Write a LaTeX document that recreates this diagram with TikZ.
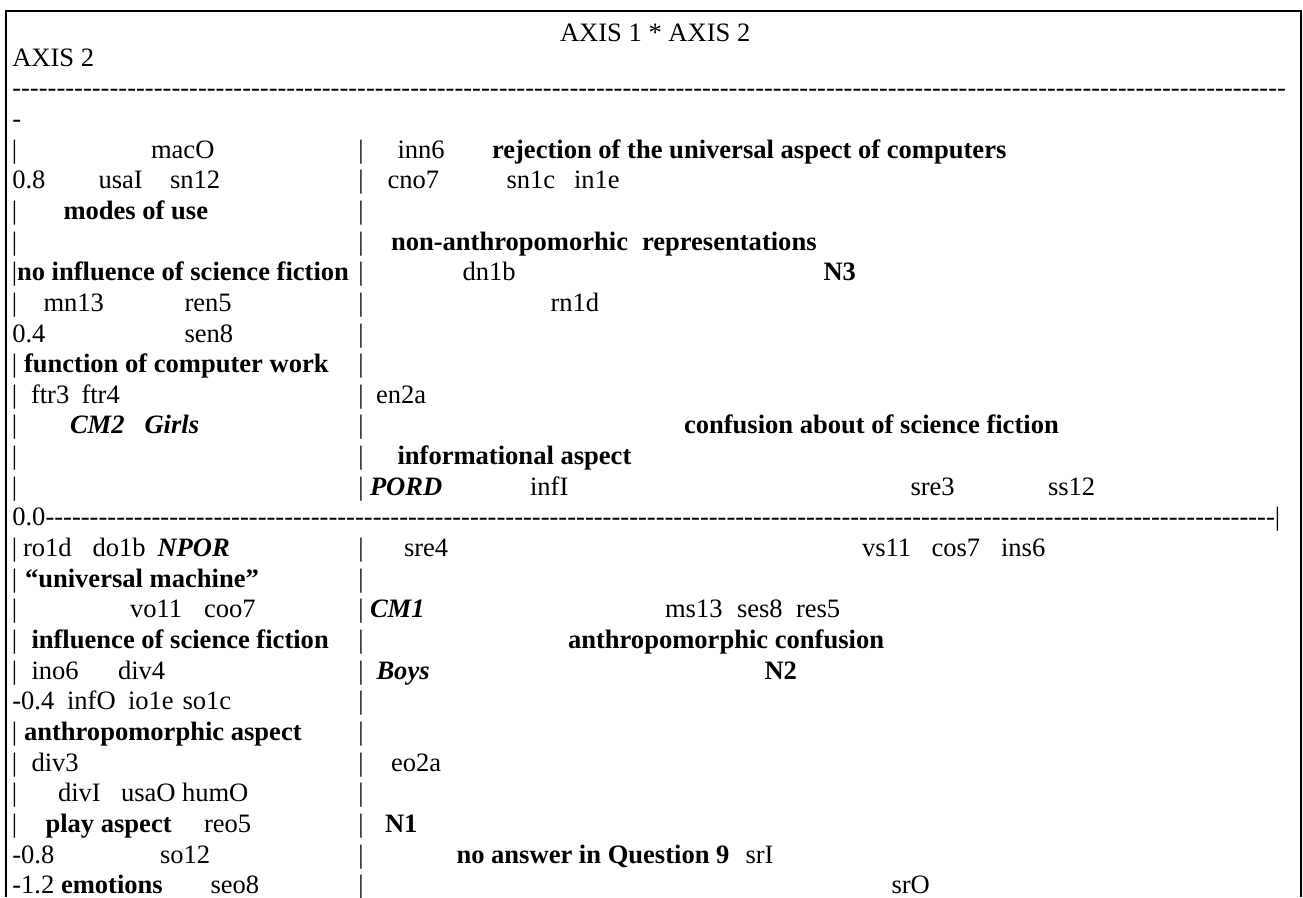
\documentclass[tikz,border=0pt]{standalone}
\usepackage{fontspec}
\setmainfont{Liberation Serif}
\ExplSyntaxOn
\cs_new:Npn \hyrun #1 { \prg_replicate:nn {#1} { -\kern0pt } }
\ExplSyntaxOff
\newcommand\T[5]{\node[#1] (#2) at (#3,{35.5+30.65*#4}) {#5};}
\begin{document}
\begin{tikzpicture}[x=0.4518pt,y=-0.4518pt,
  every node/.style={inner sep=0pt,outer sep=0pt,anchor=base west},
  tx/.style={font=\fontsize{12pt}{14pt}\selectfont},
  bx/.style={font=\fontsize{12pt}{14pt}\selectfont\bfseries},
  bix/.style={font=\fontsize{12pt}{14pt}\selectfont\bfseries\itshape},
  frame/.style={line width=0.9pt}]
\useasboundingbox (0,0) rectangle (1303,897);
\draw[frame] (5.7,897) -- (5.7,11) -- (1301,11) -- (1301,897);
% title and header
\node[tx] (title) at (560,41) {AXIS 1 * AXIS 2};
\T{tx}{ax2}{12.3}{1}{AXIS 2}
\T{tx}{dashA}{12.3}{2}{\hyrun{144}}
\T{tx}{dashB}{12.3}{3}{-}
% pipes
\foreach \n in {4,6,7,8,9,11,12,13,14,15,17,18,19,20,21,23,24,25,26}
  {\node[tx] (lp\n) at (12,{35.5+30.65*\n}) {|};}
\foreach \n in {4,5,6,7,8,9,10,11,12,13,14,15,17,18,19,20,21,22,23,24,25,26,27,28}
  {\node[tx] (mp\n) at (358.3,{35.5+30.65*\n}) {|};}
% row 4
\T{tx}{macO}{151}{4}{macO}
\T{tx}{inn6}{397.5}{4}{inn6}
\T{bx}{rej}{492}{4}{rejection of the universal aspect of computers}
% row 5
\T{tx}{v08}{12.3}{5}{0.8}
\T{tx}{usaI}{98.5}{5}{usaI}
\T{tx}{sn12}{170}{5}{sn12}
\T{tx}{cno7}{387.5}{5}{cno7}
\T{tx}{sn1c}{506.5}{5}{sn1c}
\T{tx}{in1e}{574}{5}{in1e}
% row 6
\T{bx}{modes}{63.5}{6}{modes of use}
% row 7
\T{bx}{nonan}{391}{7}{non-anthropomorhic}
\T{bx}{repr}{642}{7}{representations}
% row 8
\T{bx}{noinf}{17}{8}{no influence of science fiction}
\T{tx}{dn1b}{462.5}{8}{dn1b}
\T{bx}{N3}{823.5}{8}{N3}
% row 9
\T{tx}{mn13}{43.5}{9}{mn13}
\T{tx}{ren5}{184.5}{9}{ren5}
\T{tx}{rn1d}{550.5}{9}{rn1d}
% row 10
\T{tx}{v04}{12.3}{10}{0.4}
\T{tx}{sen8}{184.5}{10}{sen8}
% row 11
\T{bx}{func}{24}{11}{function of computer work}
% row 12
\T{tx}{ftr3}{31}{12}{ftr3}
\T{tx}{ftr4}{81.5}{12}{ftr4}
\T{tx}{en2a}{376}{12}{en2a}
% row 13
\T{bix}{CM2}{70}{13}{CM2}
\T{bix}{girls}{144.5}{13}{Girls}
\T{bx}{confsf}{684}{13}{confusion about of science fiction}
% row 14
\T{bx}{infasp}{397.5}{14}{informational aspect}
% row 15
\T{bix}{PORD}{370}{15}{PORD}
\T{tx}{infI}{530}{15}{infI}
\T{tx}{sre3}{910.5}{15}{sre3}
\T{tx}{ss12}{1048}{15}{ss12}
% row 16
\T{tx}{zero}{12.3}{16}{0.0\hyrun{139}|}
% row 17
\T{tx}{ro1d}{23}{17}{ro1d}
\T{tx}{do1b}{92.5}{17}{do1b}
\T{bix}{NPOR}{157.5}{17}{NPOR}
\T{tx}{sre4}{404}{17}{sre4}
\T{tx}{vs11}{862}{17}{vs11}
\T{tx}{cos7}{931.5}{17}{cos7}
\T{tx}{ins6}{1001}{17}{ins6}
% row 18
\T{bx}{univ}{25}{18}{“universal machine”}
% row 19
\T{tx}{vo11}{130}{19}{vo11}
\T{tx}{coo7}{204}{19}{coo7}
\T{bix}{CM1}{370}{19}{CM1}
\T{tx}{ms13}{665}{19}{ms13}
\T{tx}{ses8}{737}{19}{ses8}
\T{tx}{res5}{796}{19}{res5}
% row 20
\T{bx}{infsf}{31.5}{20}{influence of science fiction}
\T{bx}{anconf}{568}{20}{anthropomorphic confusion}
% row 21
\T{tx}{ino6}{31.5}{21}{ino6}
\T{tx}{div4}{118}{21}{div4}
\T{bix}{boys}{376.5}{21}{Boys}
\T{bx}{N2}{764.5}{21}{N2}
% row 22
\T{tx}{m04}{12.3}{22}{-0.4}
\T{tx}{infO}{67}{22}{infO}
\T{tx}{io1e}{128}{22}{io1e}
\T{tx}{so1c}{182.5}{22}{so1c}
% row 23
\T{bx}{anasp}{24}{23}{anthropomorphic aspect}
% row 24
\T{tx}{div3}{31.5}{24}{div3}
\T{tx}{eo2a}{391}{24}{eo2a}
% row 25
\T{tx}{divI}{58}{25}{divI}
\T{tx}{usaO}{121}{25}{usaO}
\T{tx}{humO}{182}{25}{humO}
% row 26
\T{bx}{play}{45.5}{26}{play aspect}
\T{tx}{reo5}{204}{26}{reo5}
\T{bx}{N1}{385}{26}{N1}
% row 27
\T{tx}{m08}{12.3}{27}{-0.8}
\T{tx}{so12}{160}{27}{so12}
\T{bx}{noans}{456.5}{27}{no answer in Question 9}
\T{tx}{srI}{745.5}{27}{srI}
% row 28
\T{tx}{m12}{12.3}{28}{-1.2}
\T{bx}{emot}{61}{28}{emotions}
\T{tx}{seo8}{210.5}{28}{seo8}
\T{tx}{srO}{891.5}{28}{srO}
\end{tikzpicture}
\end{document}
